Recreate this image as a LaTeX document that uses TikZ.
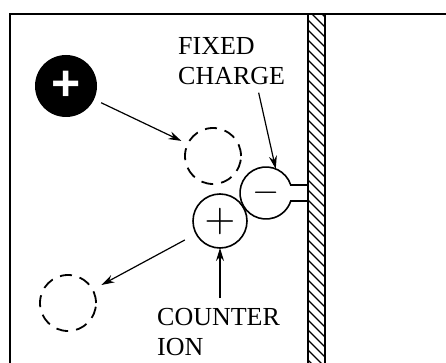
\documentclass[tikz,border=0pt]{standalone}
\usepackage{fontspec}
\usepackage{graphicx}
\setmainfont{Liberation Serif}
\newfontfamily\plusfont{Liberation Sans}
\usetikzlibrary{arrows.meta, positioning, calc}
\tikzset{
  ion/.style={circle, draw, line width=1.6pt, inner sep=0pt, outer sep=0pt,
    minimum size=54pt},
  fixedion/.style={circle, inner sep=0pt, outer sep=0pt, minimum size=52pt},
  mobion/.style={circle, fill=black, text=white, inner sep=0pt, outer sep=0pt,
    minimum size=62pt, font=\fontsize{50}{50}\selectfont\plusfont\bfseries},
  hole/.style={circle, draw, dash pattern=on 12pt off 8pt, line width=1.8pt,
    inner sep=0pt, outer sep=0pt, minimum size=56pt},
  lbl/.style={font=\fontsize{26}{30}\selectfont, align=left, inner sep=0pt},
  arrow/.style={-{Stealth[length=13pt, width=8pt]}, line width=1.2pt},
  edge/.style={line width=1.5pt}
}
\begin{document}
\begin{tikzpicture}[x=1pt, y=-1pt]
  \useasboundingbox (0,0) rectangle (446,363);

  % frame
  \draw[edge] (10,363) -- (10,14) -- (446,14);

  % wall
  \begin{scope}
    \clip (308,14) rectangle (325,363);
    \foreach \y in {-10,0,...,360}
      \draw[line width=1.2pt] (308,\y) -- (325,\y+17);
  \end{scope}
  \draw[edge] (308,14) -- (308,363) (325,14) -- (325,363);

  % ions
  \node[mobion] (mob) at (66,86) {+};
  \node[hole] (hole1) at (213,156) {};
  \node[hole] (hole2) at (68,303) {};
  \node[fixedion] (fix) at (266,193) {\scalebox{3.5}{$-$}};
  \node[ion] (ctr) at (220,221) {\scalebox{4}{$+$}};

  % fixed charge on its stalk
  \draw[line width=1.6pt] (308,185) -- (fix.18)
    arc[start angle=18, end angle=342, radius=26pt] -- (308,201);

  % labels
  \node[lbl, anchor=north west] (fixlbl) at (178,37) {FIXED\\CHARGE};
  \node[lbl, anchor=north west] (ctrlbl) at (157,308) {COUNTER\\ION};

  % arrows
  \draw[arrow, shorten <=8pt, shorten >=7pt] (mob) -- (hole1);
  \draw[arrow] ($(fixlbl.south)+(27,8)$) -- (fix.68);
  \draw[arrow, shorten <=13pt, shorten >=10pt] (ctr) -- (hole2);
  \draw[arrow] ($(ctrlbl.north -| ctr.south)+(0,-10)$) -- (ctr.south);
\end{tikzpicture}
\end{document}
